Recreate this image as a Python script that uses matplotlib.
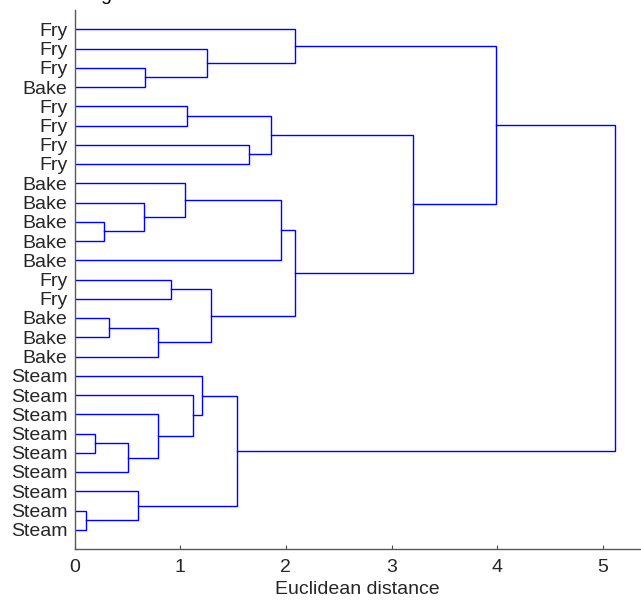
import numpy as np
import matplotlib
matplotlib.use("Agg")
import matplotlib.pyplot as plt

plt.rcParams['font.family'] = ['Liberation Sans', 'DejaVu Sans']

# leaf labels, top to bottom
leaf_labels = ["Fry", "Fry", "Fry", "Bake", "Fry", "Fry", "Fry", "Fry",
               "Bake", "Bake", "Bake", "Bake", "Bake", "Fry", "Fry",
               "Bake", "Bake", "Bake",
               "Steam", "Steam", "Steam", "Steam", "Steam", "Steam",
               "Steam", "Steam", "Steam"]

# merges like a linkage table: node ids 0..26 are leaves, new nodes from 27 up
merge_left = [2, 1, 0, 4, 6, 30, 10, 9, 8, 35, 13, 15, 38, 37, 36, 32, 29,
              21, 44, 20, 19, 18, 25, 24, 48, 43]
merge_right = [3, 27, 28, 5, 7, 31, 11, 33, 34, 12, 14, 16, 17, 39, 40, 41, 42,
               22, 23, 45, 46, 47, 26, 49, 50, 51]
merge_height = [0.67, 1.25, 2.09, 1.06, 1.65, 1.86, 0.28, 0.66, 1.05, 1.95,
                0.91, 0.33, 0.79, 1.29, 2.09, 3.20, 3.99,
                0.19, 0.51, 0.79, 1.12, 1.21, 0.11, 0.60, 1.54, 5.11]

n = len(leaf_labels)
pos = {i: i + 1 for i in range(n)}
hgt = {i: 0.0 for i in range(n)}

fig = plt.figure(figsize=(6.41, 6.0), dpi=100)
ax = fig.add_axes([74.5 / 641, 51 / 600, 1 - 74.5 / 641, 539 / 600])

for k, (a, b, h) in enumerate(zip(merge_left, merge_right, merge_height)):
    node = n + k
    ax.plot([hgt[a], h, h, hgt[b]], [pos[a], pos[a], pos[b], pos[b]],
            color=(0, 0, 1), lw=1.0, solid_joinstyle='miter')
    pos[node] = (pos[a] + pos[b]) / 2
    hgt[node] = h

ax.set_ylim(28, 0)
ax.set_xlim(0, 5.36)
ax.set_yticks(range(1, n + 1))
ax.set_yticklabels(leaf_labels)
ax.set_xticks([0, 1, 2, 3, 4, 5])
ax.tick_params(axis='y', length=0, pad=5, labelsize=14, colors='0.15')
ax.tick_params(axis='x', direction='in', length=3, pad=7, labelsize=14,
               color='0.3', labelcolor='0.15')
ax.spines['top'].set_visible(False)
ax.spines['right'].set_visible(False)
for s in ['left', 'bottom']:
    ax.spines[s].set_color('0.35')
    ax.spines[s].set_linewidth(1.0)
ax.set_xlabel("Euclidean distance", fontsize=14, color='0.15', labelpad=4)

# cropped title, only the descender shows
fig.text(100 / 641, 1.0, "g", fontsize=14, va='baseline', ha='left')

fig.savefig("out.png", dpi=100)
